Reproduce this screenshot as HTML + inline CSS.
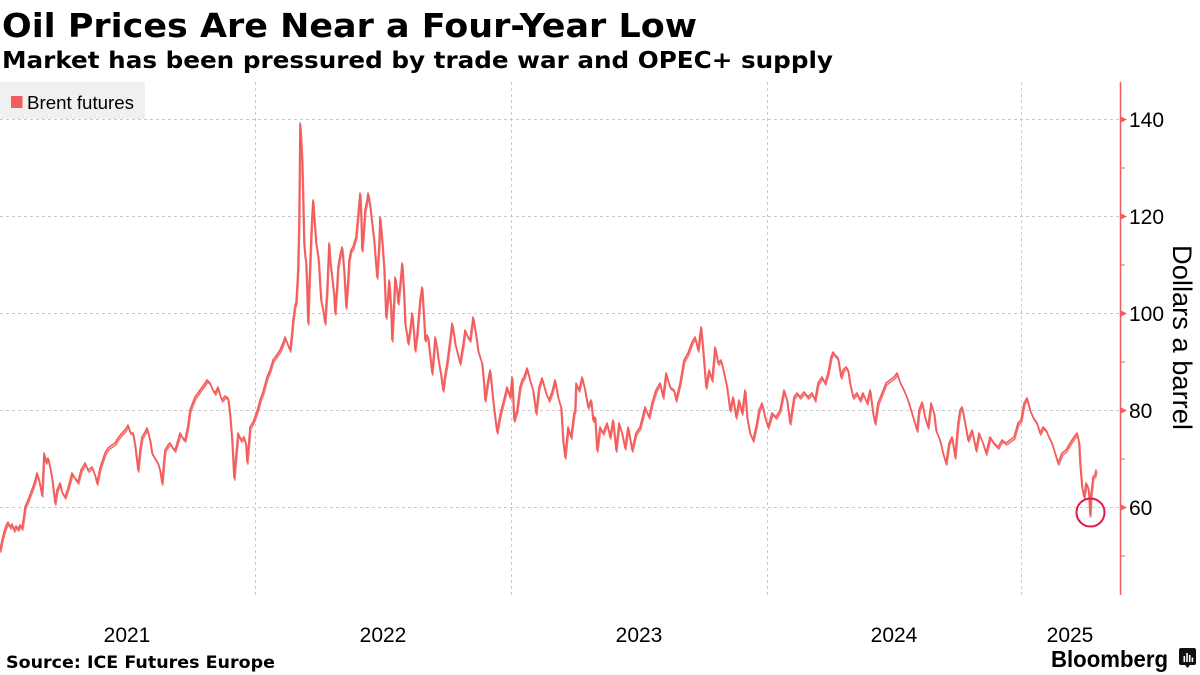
<!DOCTYPE html>
<html>
<head>
<meta charset="utf-8">
<style>
  html, body { margin: 0; padding: 0; background: #ffffff; }
  body { width: 1200px; height: 675px; overflow: hidden; }
  svg { display: block; }
</style>
</head>
<body>
<svg width="1200" height="675" viewBox="0 0 1200 675" xmlns="http://www.w3.org/2000/svg">
  <rect x="0" y="0" width="1200" height="675" fill="#ffffff"/>

  <!-- Title & subtitle -->
  <text x="2" y="37" font-family="'DejaVu Sans', 'Liberation Sans', sans-serif" font-weight="bold" font-size="33" fill="#000" textLength="695" lengthAdjust="spacingAndGlyphs">Oil Prices Are Near a Four-Year Low</text>
  <text x="2" y="68" font-family="'DejaVu Sans', 'Liberation Sans', sans-serif" font-weight="bold" font-size="23" fill="#000" textLength="831" lengthAdjust="spacingAndGlyphs">Market has been pressured by trade war and OPEC+ supply</text>

  <!-- Gridlines -->
  <g stroke="#c9c9c9" stroke-width="1" stroke-dasharray="3,3" fill="none">
    <line x1="0" y1="119.5" x2="1120" y2="119.5"/>
    <line x1="0" y1="216.5" x2="1120" y2="216.5"/>
    <line x1="0" y1="313.5" x2="1120" y2="313.5"/>
    <line x1="0" y1="410.5" x2="1120" y2="410.5"/>
    <line x1="0" y1="507.5" x2="1120" y2="507.5"/>
    <line x1="255.5" y1="82" x2="255.5" y2="595"/>
    <line x1="511.5" y1="82" x2="511.5" y2="595"/>
    <line x1="767.5" y1="82" x2="767.5" y2="595"/>
    <line x1="1021.5" y1="82" x2="1021.5" y2="595"/>
  </g>

  <!-- Legend -->
  <rect x="0" y="82" width="145" height="37" fill="#f0f0f0"/>
  <rect x="11" y="96" width="11.5" height="12" fill="#f25c5c"/>
  <text x="27" y="109" font-family="'Liberation Sans', sans-serif" font-size="18.5" fill="#000" textLength="107" lengthAdjust="spacingAndGlyphs">Brent futures</text>

  <!-- Data line -->
  <polyline id="ln" fill="none" stroke="#f25c5c" stroke-width="1.6" stroke-linejoin="round" stroke-linecap="round" points="
0,550 2,540 4,532 6,526 8,522 10,527 12,524 14,530 16,526 18,529 20,525 22,528 24,515 25,507 28,500 31,492 34,484 37,473 39,480 42,495 44,453 46,462 48,458 50,467 52,478 55,503 57,490 60,483 62,492 65,497 68,488 72,473 75,478 78,482 81,470 85,463 88,470 92,467 95,475 97,483 100,468 105,453 108,448 112,445 115,443 118,438 122,433 125,430 128,425 130,432 133,433 135,445 138,470 140,450 142,437 145,432 147,428 150,440 152,453 155,458 158,463 160,470 162,483 164,460 165,450 168,445 170,443 173,448 175,450 178,440 180,433 183,438 185,440 188,425 190,410 193,402 195,397 198,393 200,390 203,386 207,380 210,383 213,390 215,393 218,387 220,395 222,400 225,396 228,398 230,415 232,440 234,478 236,455 238,433 241,440 244,437 246,445 247,462 249,440 250,427 253,422 255,417 258,408 260,400 263,392 267,377 270,370 273,360 276,356 280,350 283,343 285,337 288,345 290,350 292,332 293,320 295,305 296,303
297,287 298,267 299,220 300,123 301,140 302,160 303,200 304,243 305,255 306,263 307,290 308,323 309,290 311,237 312,215 313,200 314,215 316,243 318,255 319,267 320,285 321,300 323,310 325,323 327,290 329,243 330,260 332,277 334,295 335,313 337,285 338,267 340,255 342,247 344,270 346,307 348,280 349,260 351,250 353,247 355,240 356,237 358,215 360,193 361,215 362,250 364,225 365,210 367,200 368,193 370,205 372,223 374,240 375,253 377,277 379,245 380,217 382,240 384,267 386,317 388,295 389,280 391,310 392,340 394,300 395,277 397,290 398,303 400,285 402,263 404,295 405,323 407,335 408,343 410,330 412,313 414,335 415,350 417,335 418,323 420,300 422,287 424,320 425,340 427,335 428,337 430,355 432,373 434,350 435,337 437,348 438,357 441,375 443,390 445,375 447,363 450,340 452,323 454,335 455,343 458,355 460,363 463,345 465,330 468,337 470,340 472,325 473,317 476,335 478,350 480,357 482,363 484,385 485,400 488,380 490,370 493,400 495,417 497,432 500,415 503,403 505,395 507,387 510,397 512,377 514,420 517,410 520,387 522,380 524,377 527,368 530,380 533,390 536,413 539,387 542,378 546,393 549,400 552,392 555,380 558,397 561,407 563,440 565,457 568,427 571,437 574,413 575,410
576,383 579,390 582,377 585,390 588,407 591,400 593,420 595,417 597,450 600,427 603,433 607,423 610,437 613,420 616,450 619,423 622,433 625,448 628,427 632,450 636,433 640,427 643,415 645,407 649,417 652,403 656,390 660,383 663,397 666,373 670,387 674,390 676,400 680,383 684,360 688,353 692,342 695,337 698,350 701,327 703,350 706,387 709,370 712,380 715,347 718,363 721,360 724,373 727,387 730,410 733,397 736,417 739,400 742,413 745,390 747,417 750,433 753,440 756,427 759,410 762,403 765,417 768,427 772,413 776,417 780,410 784,390 787,400 790,423 794,397 797,393 800,397 804,392 808,397 812,393 815,400 818,383 822,377 825,383 828,373 831,357 833,352 835,355 838,358 841,377 843,370 846,367 848,370 850,383 853,397 857,393 860,400 863,393 867,403 870,390 873,413 875,423 878,403 882,393 886,383 890,380 894,377 897,373 900,382 904,390 908,400 911,410 914,420 917,430 919,410 922,402 925,417 928,427 931,403 934,413 936,430 940,440 943,453 946,463 949,443 952,437 955,457 958,423 960,410 962,407 965,423 968,440 972,430 976,450 979,433 983,443 986,453 990,437 994,443 998,447 1002,440 1006,443 1010,440 1014,437 1018,423 1021,420 1024,403 1027,398 1030,410 1033,417 1037,423 1040,433 1043,427 1046,430 1049,437 1052,443 1055,453 1058,463 1062,453 1066,450 1070,443 1074,437 1077,433 1079,443 1080,463 1082,487 1084,497 1086,483 1088,487 1089,495 1090,515 1091,495 1093,477 1095,475 1096,470"/>
  <use href="#ln" transform="translate(0.8,2)" opacity="0.85"/>

  <!-- Highlight circle -->
  <circle cx="1090.5" cy="512.5" r="14" fill="none" stroke="#e3174a" stroke-width="2"/>

  <!-- Right axis -->
  <line x1="1120.5" y1="82" x2="1120.5" y2="595" stroke="#f25c5c" stroke-width="1.5"/>
  <g fill="#f25c5c">
    <polygon points="1120,116 1127,119.5 1120,123"/>
    <polygon points="1120,213 1127,216.5 1120,220"/>
    <polygon points="1120,310 1127,313.5 1120,317"/>
    <polygon points="1120,407 1127,410.5 1120,414"/>
    <polygon points="1120,504 1127,507.5 1120,511"/>
  </g>
  <g stroke="#f25c5c" stroke-width="1">
    <line x1="1120" y1="168" x2="1125" y2="168"/>
    <line x1="1120" y1="265" x2="1125" y2="265"/>
    <line x1="1120" y1="362" x2="1125" y2="362"/>
    <line x1="1120" y1="459" x2="1125" y2="459"/>
    <line x1="1120" y1="556" x2="1125" y2="556"/>
  </g>
  <g font-family="'Liberation Sans', sans-serif" font-size="21" fill="#000">
    <text x="1129" y="127">140</text>
    <text x="1129" y="224">120</text>
    <text x="1129" y="321">100</text>
    <text x="1129" y="418">80</text>
    <text x="1129" y="515">60</text>
  </g>
  <text x="1173" y="337.5" transform="rotate(90 1173 337.5)" text-anchor="middle" font-family="'Liberation Sans', sans-serif" font-size="27" fill="#000" textLength="185" lengthAdjust="spacingAndGlyphs">Dollars a barrel</text>

  <!-- X axis labels -->
  <g font-family="'Liberation Sans', sans-serif" font-size="21" fill="#000" text-anchor="middle">
    <text x="127" y="642">2021</text>
    <text x="383" y="642">2022</text>
    <text x="639" y="642">2023</text>
    <text x="894" y="642">2024</text>
    <text x="1070" y="642">2025</text>
  </g>

  <!-- Footer -->
  <text x="6" y="668" font-family="'DejaVu Sans', 'Liberation Sans', sans-serif" font-weight="bold" font-size="16.5" fill="#000" textLength="269" lengthAdjust="spacingAndGlyphs">Source: ICE Futures Europe</text>
  <text x="1051" y="667" font-family="'Liberation Sans', sans-serif" font-weight="bold" font-size="23" fill="#000" textLength="117" lengthAdjust="spacingAndGlyphs">Bloomberg</text>
  <g>
    <path d="M1181,648 h13 a2,2 0 0 1 2,2 v13 a2,2 0 0 1 -2,2 h-4 l-2.5,3 l-2.5,-3 h-4 a2,2 0 0 1 -2,-2 v-13 a2,2 0 0 1 2,-2 z" fill="#111"/>
    <rect x="1183.5" y="656" width="1.6" height="6" fill="#fff"/>
    <rect x="1186.2" y="653" width="1.6" height="9" fill="#fff"/>
    <rect x="1188.9" y="655" width="1.6" height="7" fill="#fff"/>
    <rect x="1191.6" y="657.5" width="1.6" height="4.5" fill="#fff"/>
  </g>
</svg>
</body>
</html>
